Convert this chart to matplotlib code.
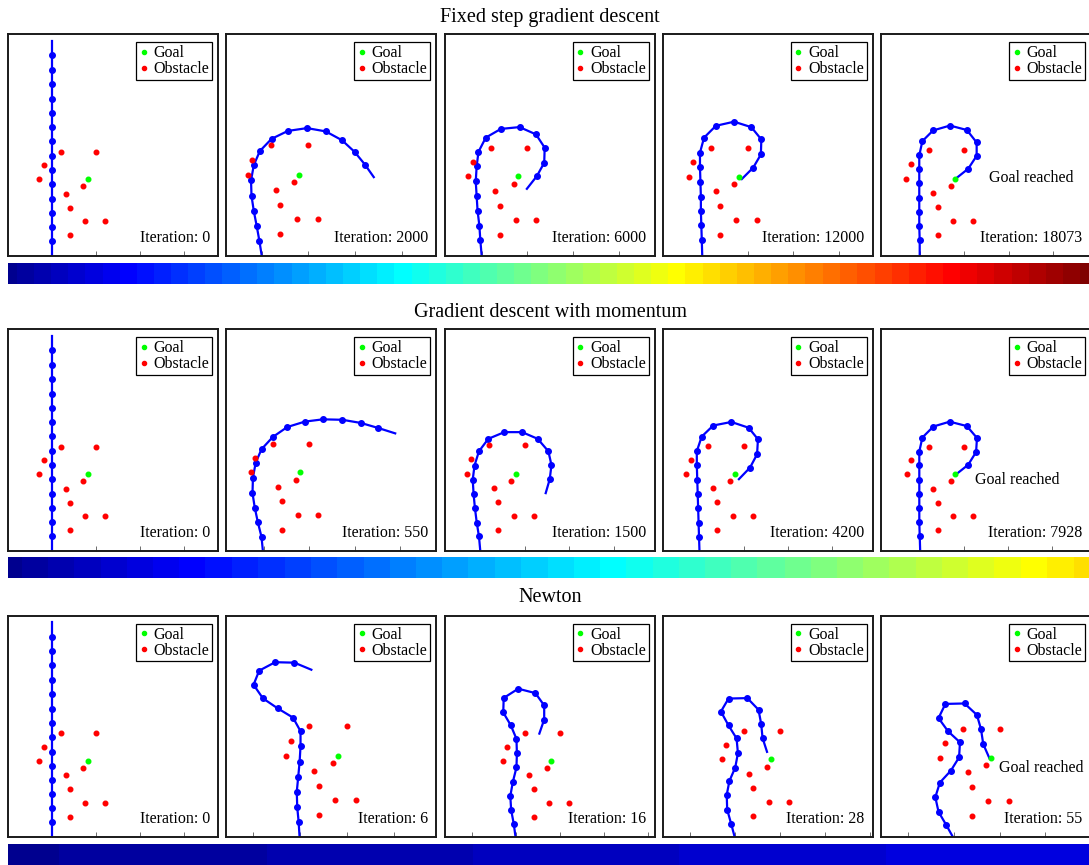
import numpy as np
import matplotlib
matplotlib.use("Agg")
import matplotlib.pyplot as plt
from matplotlib.colors import ListedColormap

plt.rcParams["font.family"] = ["Liberation Serif", "DejaVu Serif"]

# ---- data ----
titles = ["Fixed step gradient descent", "Gradient descent with momentum", "Newton"]
iterations = [[0, 2000, 6000, 12000, 18073],
              [0, 550, 1500, 4200, 7928],
              [0, 6, 16, 28, 55]]

goal_x = [1.8]
goal_y = [1.74]
obs_x = [1.2, 2.0, 0.8, 0.7, 1.3, 1.7, 1.4, 1.75, 2.2, 1.4]
obs_y = [2.37, 2.37, 2.06, 1.74, 1.42, 1.58, 1.1, 0.79, 0.79, 0.47]

# arm joints (base -> tip)
init_x = [1.0, 1.0, 1.0, 1.0, 1.0, 1.0, 1.0, 1.0, 1.0, 1.0, 1.0, 1.0, 1.0, 1.0, 1.0, 1.0]
init_y = [0.0, 0.34, 0.66, 0.98, 1.30, 1.63, 1.95, 2.28, 2.61, 2.93, 3.26, 3.58, 3.91, 4.23, 4.56, 4.89]

fixed_x = [
    [1.0, 0.95, 0.89, 0.83, 0.78, 0.77, 0.83, 0.96, 1.21, 1.56, 1.97, 2.37, 2.72, 2.99, 3.21, 3.40],
    [1.0, 0.97, 0.95, 0.91, 0.89, 0.87, 0.89, 0.93, 1.09, 1.42, 1.83, 2.19, 2.38, 2.37, 2.21, 1.99],
    [1.0, 0.99, 0.98, 0.97, 0.97, 0.96, 0.95, 0.95, 1.04, 1.30, 1.70, 2.08, 2.30, 2.29, 2.12, 1.87],
    [1.0, 1.0, 0.99, 0.99, 0.99, 0.99, 0.99, 0.99, 1.06, 1.30, 1.68, 2.06, 2.28, 2.28, 2.09, 1.80],
]
fixed_y = [
    [0.0, 0.32, 0.65, 0.96, 1.29, 1.62, 1.95, 2.25, 2.51, 2.68, 2.74, 2.67, 2.48, 2.23, 1.96, 1.69],
    [0.0, 0.35, 0.66, 0.99, 1.31, 1.63, 1.96, 2.28, 2.59, 2.78, 2.82, 2.66, 2.37, 2.04, 1.75, 1.47],
    [0.0, 0.35, 0.67, 0.98, 1.30, 1.63, 1.96, 2.27, 2.60, 2.86, 2.95, 2.83, 2.56, 2.23, 1.94, 1.69],
    [0.0, 0.35, 0.67, 0.98, 1.30, 1.63, 1.95, 2.26, 2.58, 2.82, 2.93, 2.83, 2.55, 2.25, 1.96, 1.73],
]
momentum_x = [
    [0.97, 0.94, 0.86, 0.79, 0.74, 0.75, 0.81, 0.94, 1.19, 1.51, 1.90, 2.30, 2.73, 3.14, 3.52, 3.90],
    [1.0, 0.97, 0.92, 0.88, 0.85, 0.83, 0.87, 0.97, 1.18, 1.54, 1.94, 2.29, 2.53, 2.60, 2.56, 2.47],
    [1.0, 0.99, 0.98, 0.97, 0.96, 0.95, 0.94, 0.94, 1.05, 1.31, 1.72, 2.11, 2.32, 2.30, 2.14, 1.89],
    [1.0, 0.99, 0.98, 0.98, 0.98, 0.98, 0.98, 0.98, 1.05, 1.30, 1.67, 2.06, 2.29, 2.27, 2.09, 1.80],
]
momentum_y = [
    [0.0, 0.31, 0.63, 0.96, 1.28, 1.62, 1.95, 2.25, 2.52, 2.74, 2.86, 2.91, 2.90, 2.83, 2.72, 2.60],
    [0.0, 0.33, 0.64, 0.96, 1.27, 1.60, 1.92, 2.24, 2.52, 2.67, 2.67, 2.52, 2.24, 1.93, 1.61, 1.30],
    [0.0, 0.32, 0.64, 0.97, 1.29, 1.61, 1.94, 2.25, 2.58, 2.83, 2.91, 2.78, 2.52, 2.18, 1.88, 1.62],
    [0.0, 0.33, 0.65, 0.97, 1.30, 1.62, 1.95, 2.26, 2.58, 2.83, 2.94, 2.84, 2.57, 2.25, 1.96, 1.73],
]
newton_x = [
    [0.99, 0.97, 0.94, 0.93, 0.96, 0.99, 1.01, 1.01, 0.85, 0.52, 0.21, 0.01, 0.13, 0.47, 0.88, 1.24],
    [0.99, 0.95, 0.89, 0.87, 0.93, 1.01, 1.02, 1.01, 0.88, 0.71, 0.72, 1.05, 1.44, 1.64, 1.64, 1.53],
    [0.99, 0.91, 0.82, 0.81, 0.87, 1.0, 1.06, 1.03, 0.85, 0.68, 0.85, 1.27, 1.52, 1.58, 1.61, 1.71],
    [0.98, 0.83, 0.66, 0.59, 0.69, 0.93, 1.11, 1.13, 0.87, 0.66, 0.81, 1.23, 1.50, 1.59, 1.64, 1.78],
]
newton_y = [
    [0.0, 0.33, 0.64, 0.97, 1.28, 1.60, 1.94, 2.26, 2.55, 2.75, 2.96, 3.25, 3.55, 3.73, 3.72, 3.57],
    [0.0, 0.30, 0.62, 0.94, 1.27, 1.59, 1.91, 2.24, 2.55, 2.84, 3.17, 3.38, 3.28, 3.00, 2.68, 2.36],
    [0.0, 0.30, 0.62, 0.95, 1.26, 1.56, 1.88, 2.21, 2.50, 2.81, 3.10, 3.11, 2.85, 2.53, 2.22, 1.91],
    [0.0, 0.27, 0.56, 0.88, 1.20, 1.46, 1.75, 2.08, 2.32, 2.61, 2.92, 2.93, 2.68, 2.37, 2.04, 1.72],
]
arm_x = [[init_x] + fixed_x, [init_x] + momentum_x, [init_x] + newton_x]
arm_y = [[init_y] + fixed_y, [init_y] + momentum_y, [init_y] + newton_y]

# per panel axis limits (each panel was autoscaled separately)
xlims = [[(0, 4.77), (0.24, 4.74), (0.19, 4.79), (0.13, 4.75), (0.13, 4.85)],
         [(0, 4.77), (0.16, 4.81), (0.2, 4.92), (0.17, 4.91), (0.11, 4.88)],
         [(0, 4.77), (-0.57, 3.90), (-0.62, 4.15), (-0.62, 4.07), (-0.6, 4.0)]]
ylims = [[5.04, 4.75, 4.85, 4.87, 4.98],
         [5.04, 4.90, 4.98, 5.0, 5.04],
         [5.04, 4.72, 5.04, 4.95, 4.85]]

# where "Goal reached" sits in the last panel of each row
reached_x = [2.56, 2.24, 1.98]
reached_y = [1.75, 1.61, 1.52]

# progress bar colour range per row (fraction of the colormap)
bar_lo = [0.0, 0.0, 0.004]
bar_hi = [1.0, 0.652, 0.087]


def matlab_jet(m=64):
    n = int(np.ceil(m / 4))
    u = np.concatenate([np.arange(1, n + 1) / n, np.ones(n - 1), np.arange(n, 0, -1) / n])
    g = int(np.ceil(n / 2)) - (1 if m % 4 == 1 else 0) + np.arange(1, len(u) + 1)
    r = g + n
    b = g - n
    J = np.zeros((m, 3))
    r = r[r <= m]
    g = g[g <= m]
    b = b[b >= 1]
    J[r - 1, 0] = u[:len(r)]
    J[g - 1, 1] = u[:len(g)]
    J[b - 1, 2] = u[len(u) - len(b):]
    return ListedColormap(J)


jet64 = matlab_jet(64)

W, H = 1089, 865
fig = plt.figure(figsize=(W / 100, H / 100), dpi=100)


def px_axes(left, top, w, h):
    return fig.add_axes([left / W, 1 - (top + h) / H, w / W, h / H])


col_left = [8.3, 226.3, 444.7, 662.7, 881]
row_top = [34.3, 329.3, 615.7]
bar_top = [262.7, 556.7, 844]
title_y = [17.5, 312.5, 598]
ax_w, ax_h = 210, 221.7

for r in range(3):
    for c in range(5):
        ax = px_axes(col_left[c], row_top[r], ax_w, ax_h)
        ax.plot(goal_x, goal_y, "o", color=(0, 1, 0), ms=3.3, label="Goal", zorder=3)
        ax.plot(obs_x, obs_y, "o", color="red", ms=3.3, label="Obstacle", zorder=3)
        xs, ys = arm_x[r][c], arm_y[r][c]
        ax.plot(xs, ys, "-", color="blue", lw=1.6, zorder=2)
        ax.plot(xs[1:-1], ys[1:-1], "o", color="blue", ms=4.0, zorder=2)
        ax.set_xlim(*xlims[r][c])
        ax.set_ylim(0, ylims[r][c])
        ax.xaxis.set_major_locator(plt.MultipleLocator(1))
        ax.set_yticks([])
        ax.tick_params(axis="x", direction="in", length=3.5, width=0.6,
                       color="#555555", labelbottom=False)
        for sp in ax.spines.values():
            sp.set_linewidth(1.4)
            sp.set_color("#1a1a1a")
        leg = ax.legend(loc="upper right", bbox_to_anchor=(1 - 6 / ax_w, 1 - 8 / ax_h),
                        borderaxespad=0, fontsize=11.5, fancybox=False, framealpha=1,
                        edgecolor="black", handlelength=0.6, handletextpad=0.3,
                        borderpad=0.18, labelspacing=0.0, markerscale=0.9)
        leg.get_frame().set_linewidth(0.9)
        ax.text(0.96, 0.063, f"Iteration: {iterations[r][c]}", transform=ax.transAxes,
                ha="right", va="baseline", fontsize=11.5)
        if c == 4:
            ax.text(reached_x[r], reached_y[r], "Goal reached", ha="left", va="center",
                    fontsize=11.5)
    fig.text(550 / W, 1 - title_y[r] / H, titles[r], ha="center", va="center", fontsize=14.5)

    bax = px_axes(col_left[0], bar_top[r], W - col_left[0], 21)
    ramp = np.linspace(bar_lo[r], bar_hi[r], 1200)[np.newaxis, :]
    bax.imshow(ramp, cmap=jet64, vmin=-0.5 / 63, vmax=63.5 / 63, aspect="auto",
               interpolation="nearest")
    bax.axis("off")

fig.savefig("out.png", dpi=100)
